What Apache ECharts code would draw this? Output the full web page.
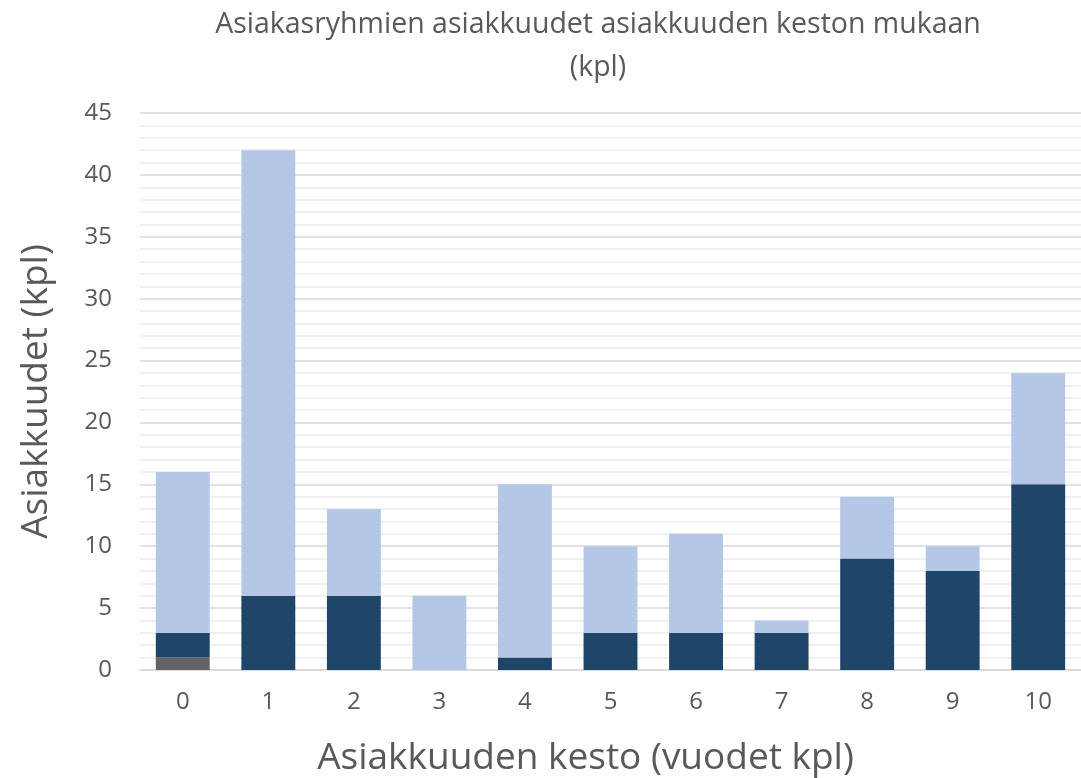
<!DOCTYPE html>
<html>
<head>
<meta charset="utf-8">
<script src="https://cdn.jsdelivr.net/npm/echarts@6/dist/echarts.min.js"></script>
<style>
    html, body { margin: 0; padding: 0; background: #fff; }
    #chart { width: 1081px; height: 778px; }
</style>
</head>
<body>
<div id="chart"></div>
<script>
// vuodet (x-akseli)
var categories = ['0', '1', '2', '3', '4', '5', '6', '7', '8', '9', '10'];
// pinotut sarjat alhaalta ylös
var greyValues = [1, 0, 0, 0, 0, 0, 0, 0, 0, 0, 0];
var darkValues = [2, 6, 6, 0, 1, 3, 3, 3, 9, 8, 15];
var lightValues = [13, 36, 7, 6, 14, 7, 8, 1, 5, 2, 9];

var font = 'Open Sans';
var chart = echarts.init(document.getElementById('chart'));

var option = {
    animation: false,
    title: {
        text: 'Asiakasryhmien asiakkuudet asiakkuuden keston mukaan\n(kpl)',
        left: 593,
        textAlign: 'center',
        top: -2,
        textStyle: {
            fontFamily: font,
            fontSize: 28.5,
            fontWeight: 'normal',
            color: '#595959',
            lineHeight: 43
        }
    },
    grid: {
        left: 140,
        right: 0,
        top: 113,
        bottom: 108,
        outerBoundsMode: 'none'
    },
    xAxis: {
        type: 'category',
        data: categories,
        name: 'Asiakkuuden kesto (vuodet kpl)',
        nameLocation: 'middle',
        nameGap: 70,
        nameTextStyle: { fontFamily: font, fontSize: 37, color: '#595959', padding: [0, 50, 0, 0] },
        axisLine: { lineStyle: { color: '#d9d9d9', width: 1.5 } },
        axisTick: { show: false },
        axisLabel: { fontFamily: font, fontSize: 24, color: '#595959', margin: 20 }
    },
    yAxis: {
        type: 'value',
        min: 0,
        max: 45,
        interval: 5,
        name: 'Asiakkuudet (kpl)',
        nameLocation: 'middle',
        nameGap: 85,
        nameTextStyle: { fontFamily: font, fontSize: 37, color: '#595959' },
        axisLine: { show: false },
        axisTick: { show: false },
        axisLabel: { fontFamily: font, fontSize: 24, color: '#595959', margin: 28 },
        splitLine: { lineStyle: { color: '#d9d9d9', width: 1.5 } },
        minorTick: { show: false, splitNumber: 5 },
        minorSplitLine: { show: true, lineStyle: { color: '#ececec', width: 1.5 } }
    },
    series: [
        {
            name: 'harmaa',
            type: 'bar',
            stack: 'kaikki',
            barWidth: '63%',
            data: greyValues,
            itemStyle: { color: '#636363' }
        },
        {
            name: 'tumma',
            type: 'bar',
            stack: 'kaikki',
            data: darkValues,
            itemStyle: { color: '#1f4569' }
        },
        {
            name: 'vaalea',
            type: 'bar',
            stack: 'kaikki',
            data: lightValues,
            itemStyle: { color: '#b4c7e7' }
        }
    ]
};

chart.setOption(option);
</script>
</body>
</html>
